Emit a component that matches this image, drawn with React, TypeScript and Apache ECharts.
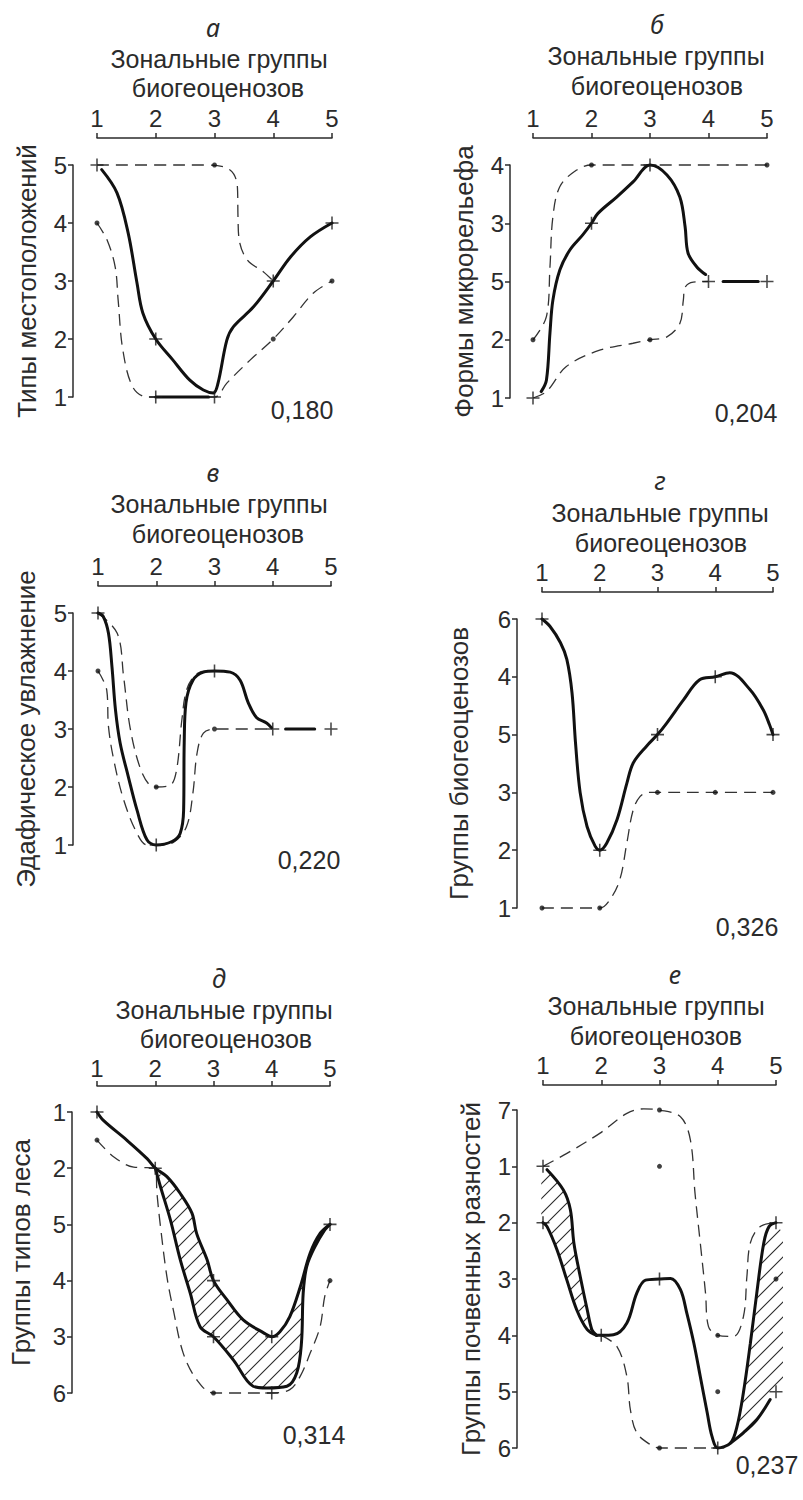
import React, { useEffect, useRef } from 'react';
import * as echarts from 'echarts';

type Pt = [number, number];

// ---------- shared ----------
const X_TICKS = [1, 2, 3, 4, 5];
const X_NAME_1 = 'Зональные группы';
const X_NAME_2 = 'биогеоценозов';

// ---------- а ----------
const A_LETTER = 'а';
const A_Y_NAME = 'Типы местоположений';
const A_LABELS = ['1', '2', '3', '4', '5'];
const A_SOLID: Pt[] = [[1.08, 4.92], [1.34, 4.52], [1.53, 3.83], [1.68, 2.97], [1.78, 2.45], [2, 2], [2.29, 1.64], [2.58, 1.29], [2.81, 1.12], [2.98, 1.07], [3.06, 1.24], [3.21, 1.98], [3.32, 2.21], [3.66, 2.55], [4, 3], [4.29, 3.41], [4.63, 3.76], [5, 4]];
const A_SOLID_2: Pt[] = [[2, 1], [2.9, 1]];
const A_DASH_1: Pt[] = [[1, 5], [2, 5], [2.9, 5], [3.27, 4.91], [3.39, 4.62], [3.4, 4.1], [3.42, 3.71], [3.56, 3.36], [3.83, 3.16], [4, 3]];
const A_DASH_2: Pt[] = [[1, 4], [1.17, 3.71], [1.31, 3.24], [1.36, 2.67], [1.44, 1.81], [1.61, 1.17], [1.85, 1.0], [2, 1], [3, 1], [3.21, 1.24], [3.61, 1.64], [4, 2], [4.34, 2.38], [4.68, 2.79], [5, 3]];
const A_PLUS: Pt[] = [[1, 5], [2, 2], [2, 1], [3, 1], [4, 3], [5, 4]];
const A_DOTS: Pt[] = [[1, 4], [3, 5], [4, 2], [5, 3]];
const A_COEF = '0,180';

// ---------- б ----------
const B_LETTER = 'б';
const B_Y_NAME = 'Формы микрорельефа';
const B_LABELS = ['1', '2', '5', '3', '4'];
const B_SOLID: Pt[] = [[1.14, 1.11], [1.23, 1.31], [1.29, 2.12], [1.34, 2.68], [1.46, 3.2], [1.63, 3.54], [1.85, 3.8], [2, 4], [2.11, 4.17], [2.43, 4.45], [2.71, 4.71], [3, 5], [3.29, 4.83], [3.51, 4.45], [3.6, 3.94], [3.65, 3.49], [3.8, 3.25], [3.95, 3.12]];
const B_SOLID_2: Pt[] = [[4.25, 3], [4.85, 3]];
const B_DASH_1: Pt[] = [[1, 2], [1.23, 2.4], [1.29, 3.25], [1.34, 4.11], [1.46, 4.63], [1.74, 4.91], [2, 5], [5, 5]];
const B_DASH_2: Pt[] = [[1, 1], [1.23, 1.11], [1.57, 1.54], [2.14, 1.82], [2.71, 1.94], [3, 2], [3.29, 2.05], [3.51, 2.28], [3.57, 2.68], [3.6, 2.9], [3.74, 2.99], [4, 3]];
const B_PLUS: Pt[] = [[1, 1], [2, 4], [3, 5], [4, 3], [5, 3]];
const B_DOTS: Pt[] = [[1, 2], [2, 5], [3, 2], [5, 5]];
const B_COEF = '0,204';

// ---------- в ----------
const V_LETTER = 'в';
const V_Y_NAME = 'Эдафическое увлажнение';
const V_LABELS = ['1', '2', '3', '4', '5'];
const V_SOLID: Pt[] = [[1, 5], [1.09, 4.94], [1.18, 4.65], [1.24, 4.07], [1.3, 3.33], [1.38, 2.76], [1.52, 2.18], [1.67, 1.6], [1.84, 1.09], [2, 1], [2.27, 1.06], [2.41, 1.2], [2.47, 1.6], [2.48, 2.76], [2.51, 3.45], [2.63, 3.84], [2.81, 3.98], [3, 4], [3.27, 3.98], [3.44, 3.84], [3.58, 3.45], [3.72, 3.2], [3.9, 3.1], [3.98, 3.02]];
const V_SOLID_2: Pt[] = [[4.22, 3], [4.72, 3]];
const V_DASH_1: Pt[] = [[1, 5], [1.33, 4.65], [1.44, 3.9], [1.55, 3.03], [1.72, 2.34], [1.9, 2.02], [2, 2], [2.24, 2.03], [2.35, 2.3], [2.44, 3.16], [2.52, 3.67], [2.67, 3.93], [2.85, 4.0], [3, 4]];
const V_DASH_2: Pt[] = [[1, 4], [1.15, 3.67], [1.18, 3.04], [1.27, 2.47], [1.44, 1.78], [1.67, 1.2], [1.84, 1.0], [2, 1], [2.3, 1.05], [2.52, 1.32], [2.63, 1.9], [2.7, 2.58], [2.81, 2.93], [3, 3], [4, 3]];
const V_PLUS: Pt[] = [[1, 5], [2, 1], [3, 4], [4, 3], [5, 3]];
const V_DOTS: Pt[] = [[1, 4], [2, 2], [3, 3]];
const V_COEF = '0,220';

// ---------- г ----------
const G_LETTER = 'г';
const G_Y_NAME = 'Группы биогеоценозов';
const G_LABELS = ['1', '2', '3', '5', '4', '6'];
const G_SOLID: Pt[] = [[1, 6], [1.14, 5.87], [1.32, 5.59], [1.43, 5.3], [1.52, 4.72], [1.58, 3.86], [1.66, 3.0], [1.78, 2.41], [1.92, 2.07], [2, 2], [2.12, 2.12], [2.3, 2.53], [2.47, 3.16], [2.58, 3.51], [2.81, 3.8], [3, 4], [3.16, 4.2], [3.45, 4.6], [3.73, 4.95], [4, 5], [4.25, 5.07], [4.6, 4.78], [4.83, 4.43], [4.94, 4.17], [5, 4]];
const G_DASH: Pt[] = [[1, 1], [2, 1], [2.18, 1.15], [2.35, 1.5], [2.47, 2.13], [2.58, 2.7], [2.7, 2.93], [2.84, 3.0], [3, 3], [4, 3], [5, 3]];
const G_PLUS: Pt[] = [[1, 6], [2, 2], [3, 4], [4, 5], [5, 4]];
const G_DOTS: Pt[] = [[1, 1], [2, 1], [3, 3], [4, 3], [5, 3]];
const G_COEF = '0,326';

// ---------- д ----------
const D_LETTER = 'д';
const D_Y_NAME = 'Группы типов леса';
const D_LABELS = ['6', '3', '4', '5', '2', '1'];
const D_SOLID_TOP: Pt[] = [[1, 6], [1.11, 5.85], [1.51, 5.5], [1.86, 5.17], [2, 5], [2.2, 4.85], [2.43, 4.55], [2.63, 4.2], [2.71, 3.84], [2.89, 3.37], [3, 3], [3.23, 2.66], [3.51, 2.3], [3.86, 2.07], [4, 2], [4.14, 2.09], [4.31, 2.36], [4.49, 2.89], [4.66, 3.49], [4.83, 3.84], [5, 4]];
const D_SOLID_BOTTOM: Pt[] = [[2, 5], [2.09, 4.67], [2.26, 4.08], [2.43, 3.37], [2.6, 2.78], [2.77, 2.18], [3, 2], [3.34, 1.59], [3.68, 1.12], [3.91, 1.09], [4.26, 1.12], [4.43, 1.36], [4.51, 1.89], [4.54, 2.78], [4.6, 3.25], [4.74, 3.6], [4.91, 3.9], [5, 4]];
const D_DASH: Pt[] = [[1, 5.5], [1.29, 5.2], [1.63, 5.02], [2, 5], [2.03, 4.55], [2.09, 3.96], [2.2, 3.07], [2.31, 2.48], [2.48, 1.71], [2.71, 1.24], [3, 1], [4, 1], [4.31, 1.06], [4.49, 1.3], [4.66, 1.71], [4.83, 2.18], [4.91, 2.72], [5, 3]];
const D_HATCH: Pt[] = [[2.05, 4.9], [2.2, 4.85], [2.43, 4.55], [2.63, 4.2], [2.71, 3.84], [2.89, 3.37], [3, 3], [3.23, 2.66], [3.51, 2.3], [3.86, 2.07], [4, 2], [4.14, 2.09], [4.31, 2.36], [4.49, 2.89], [4.55, 3.05], [4.54, 2.78], [4.51, 1.89], [4.43, 1.36], [4.26, 1.12], [3.91, 1.09], [3.68, 1.12], [3.34, 1.59], [3, 2], [2.77, 2.18], [2.6, 2.78], [2.43, 3.37], [2.26, 4.08], [2.09, 4.67]];
const D_PLUS: Pt[] = [[1, 6], [2, 5], [3, 3], [3, 2], [4, 2], [4, 1], [5, 4]];
const D_DOTS: Pt[] = [[1, 5.5], [3, 1], [5, 3]];
const D_COEF = '0,314';

// ---------- е ----------
const E_LETTER = 'е';
const E_Y_NAME = 'Группы почвенных разностей';
const E_LABELS = ['6', '5', '4', '3', '2', '1', '7'];
const E_DASH_1: Pt[] = [[1, 6], [1.41, 6.23], [1.98, 6.59], [2.44, 6.94], [2.73, 7.02], [3, 7], [3.36, 6.88], [3.53, 6.47], [3.61, 5.52], [3.7, 4.64], [3.79, 3.75], [3.84, 3.16], [4, 3], [4.27, 2.98], [4.44, 3.33], [4.5, 4.04], [4.56, 4.64], [4.73, 4.93], [5, 5]];
const E_DASH_2: Pt[] = [[2, 3], [2.27, 2.8], [2.44, 2.27], [2.5, 1.68], [2.61, 1.27], [2.84, 1.06], [3, 1], [4, 1]];
const E_SOLID_UL: Pt[] = [[1.07, 5.94], [1.35, 5.58], [1.47, 5.23], [1.53, 4.64], [1.64, 4.04], [1.76, 3.45], [1.84, 3.1], [1.92, 3.0]];
const E_SOLID_LL: Pt[] = [[1, 5], [1.07, 4.93], [1.24, 4.52], [1.41, 3.98], [1.58, 3.45], [1.76, 3.1], [1.92, 3.0]];
const E_SOLID_MAIN: Pt[] = [[1.92, 3.0], [2, 3], [2.21, 3.01], [2.44, 3.22], [2.61, 3.75], [2.76, 3.98], [3, 4], [3.19, 4.01], [3.36, 3.81], [3.47, 3.39], [3.59, 2.86], [3.7, 2.27], [3.82, 1.62], [3.9, 1.21], [4, 1], [4.22, 1.09], [4.33, 1.38], [4.44, 1.98], [4.56, 2.86], [4.67, 3.75], [4.79, 4.64], [4.88, 4.93], [5, 5]];
const E_SOLID_LOW: Pt[] = [[4.22, 1.09], [4.44, 1.27], [4.67, 1.5], [4.9, 1.86]];
const E_HATCH_L: Pt[] = [[0.97, 5.92], [1.07, 5.94], [1.35, 5.58], [1.47, 5.23], [1.53, 4.64], [1.64, 4.04], [1.76, 3.45], [1.84, 3.1], [1.92, 3.0], [1.76, 3.1], [1.58, 3.45], [1.41, 3.98], [1.24, 4.52], [1.07, 4.93], [0.97, 5.0]];
const E_HATCH_R: Pt[] = [[4.22, 1.09], [4.33, 1.38], [4.44, 1.98], [4.56, 2.86], [4.67, 3.75], [4.79, 4.64], [4.88, 4.93], [5, 5], [5.12, 4.8], [5.12, 2.1], [5, 2], [4.9, 1.86], [4.67, 1.5], [4.44, 1.27]];
const E_PLUS: Pt[] = [[1, 6], [1, 5], [2, 3], [3, 4], [4, 1], [5, 5], [5, 2]];
const E_DOTS: Pt[] = [[3, 7], [3, 6], [4, 3], [4, 2], [5, 4], [3, 1]];
const E_COEF = '0,237';

// ---------- panels (data) ----------
const PANELS = [
  { letter: A_LETTER, yName: A_Y_NAME, labels: A_LABELS, solids: [A_SOLID, A_SOLID_2], dashes: [A_DASH_1, A_DASH_2], hatches: [] as Pt[][], plus: A_PLUS, dots: A_DOTS, coef: A_COEF },
  { letter: B_LETTER, yName: B_Y_NAME, labels: B_LABELS, solids: [B_SOLID, B_SOLID_2], dashes: [B_DASH_1, B_DASH_2], hatches: [] as Pt[][], plus: B_PLUS, dots: B_DOTS, coef: B_COEF },
  { letter: V_LETTER, yName: V_Y_NAME, labels: V_LABELS, solids: [V_SOLID, V_SOLID_2], dashes: [V_DASH_1, V_DASH_2], hatches: [] as Pt[][], plus: V_PLUS, dots: V_DOTS, coef: V_COEF },
  { letter: G_LETTER, yName: G_Y_NAME, labels: G_LABELS, solids: [G_SOLID], dashes: [G_DASH], hatches: [] as Pt[][], plus: G_PLUS, dots: G_DOTS, coef: G_COEF },
  { letter: D_LETTER, yName: D_Y_NAME, labels: D_LABELS, solids: [D_SOLID_TOP, D_SOLID_BOTTOM], dashes: [D_DASH], hatches: [D_HATCH], plus: D_PLUS, dots: D_DOTS, coef: D_COEF },
  { letter: E_LETTER, yName: E_Y_NAME, labels: E_LABELS, solids: [E_SOLID_UL, E_SOLID_LL, E_SOLID_MAIN, E_SOLID_LOW], dashes: [E_DASH_1, E_DASH_2], hatches: [E_HATCH_L, E_HATCH_R], plus: E_PLUS, dots: E_DOTS, coef: E_COEF },
];

// ---------- layout ----------
const LAYOUT = [
  { left: 97, top: 165, width: 235, height: 232, xOff: 27, yOff: 24, nameGap: 33, lblMargin: 8, title: [213, 27], n1: [219, 59], n2: [218, 88], coef: [302, 410] },
  { left: 533, top: 165, width: 234, height: 233, xOff: 27, yOff: 23, nameGap: 33, lblMargin: 8, title: [657, 24], n1: [656, 56], n2: [657, 86], coef: [746, 413] },
  { left: 98, top: 613, width: 233, height: 232, xOff: 27, yOff: 25, nameGap: 34, lblMargin: 8, title: [213, 472], n1: [219, 504], n2: [218, 534], coef: [309, 860] },
  { left: 542, top: 619, width: 231, height: 289, xOff: 27, yOff: 25, nameGap: 45, lblMargin: 8, title: [660, 480], n1: [660, 513], n2: [661, 543], coef: [747, 927] },
  { left: 97, top: 1112, width: 233, height: 281, xOff: 26, yOff: 25, nameGap: 38, lblMargin: 6, title: [219, 978], n1: [224, 1010], n2: [226, 1039], coef: [314, 1435] },
  { left: 543, top: 1110, width: 233, height: 338, xOff: 25, yOff: 26, nameGap: 33, lblMargin: 8, title: [675, 974], n1: [656, 1006], n2: [656, 1036], coef: [767, 1465] },
];

const INK = '#2b2b2b';
const LINE = '#111';
const FONT = '"Liberation Sans", Arial, sans-serif';
const PLUS_PATH = 'path://M4.4,0H5.6V4.4H10V5.6H5.6V10H4.4V5.6H0V4.4H4.4Z';
const HATCH_SVG =
  'data:image/svg+xml;charset=utf-8,' +
  encodeURIComponent(
    '<svg xmlns="http://www.w3.org/2000/svg" width="15" height="15"><path d="M0,15L15,0M-2,2L2,-2M13,17L17,13" stroke="#2a2a2a" stroke-width="1.1" fill="none"/></svg>'
  );

function buildOption() {
  const grid: any[] = [];
  const xAxis: any[] = [];
  const yAxis: any[] = [];
  const series: any[] = [];
  const graphic: any[] = [];
  const pattern = { type: 'pattern', image: HATCH_SVG, repeat: 'repeat', imageWidth: 15, imageHeight: 15 };

  PANELS.forEach((p, i) => {
    const L = LAYOUT[i];
    grid.push({ left: L.left, top: L.top, width: L.width, height: L.height });
    xAxis.push({
      type: 'value', gridIndex: i, position: 'top', min: X_TICKS[0], max: X_TICKS[X_TICKS.length - 1], interval: 1, offset: L.xOff,
      axisLine: { show: true, onZero: false, lineStyle: { color: INK, width: 1.5 } },
      axisTick: { show: true, length: 5, lineStyle: { color: INK, width: 1.5 } },
      axisLabel: { color: INK, fontSize: 24, fontFamily: FONT, margin: L.lblMargin },
      splitLine: { show: false },
    });
    yAxis.push({
      type: 'value', gridIndex: i, position: 'left', min: 1, max: p.labels.length, interval: 1, offset: L.yOff,
      name: p.yName, nameLocation: 'middle', nameRotate: 90, nameGap: L.nameGap,
      nameTextStyle: { color: INK, fontSize: 26, fontFamily: FONT },
      axisLine: { show: true, onZero: false, lineStyle: { color: INK, width: 1.5 } },
      axisTick: { show: true, length: 5, lineStyle: { color: INK, width: 1.5 } },
      axisLabel: { color: INK, fontSize: 24, fontFamily: FONT, margin: 6, formatter: (v: number) => p.labels[Math.round(v) - 1] ?? '' },
      splitLine: { show: false },
    });
    p.hatches.forEach((poly) => {
      series.push({
        type: 'custom', xAxisIndex: i, yAxisIndex: i, silent: true, z: 1, clip: false,
        data: [poly[0]],
        renderItem: (params: any, api: any) => {
          if (params.dataIndex !== 0) return null;
          const pts = poly.map((q) => api.coord(q));
          return { type: 'polygon', shape: { points: pts }, style: { fill: pattern, stroke: null } };
        },
      });
    });
    p.dashes.forEach((d) => {
      series.push({
        type: 'line', xAxisIndex: i, yAxisIndex: i, data: d, smooth: 0.35, showSymbol: false, silent: true, z: 2, clip: false,
        lineStyle: { color: '#333', width: 1.3, type: [12, 7] },
      });
    });
    p.solids.forEach((d) => {
      series.push({
        type: 'line', xAxisIndex: i, yAxisIndex: i, data: d, smooth: 0.35, showSymbol: false, silent: true, z: 3, clip: false,
        lineStyle: { color: LINE, width: 3, cap: 'round' },
      });
    });
    series.push({
      type: 'scatter', xAxisIndex: i, yAxisIndex: i, data: p.plus, symbol: PLUS_PATH, symbolSize: 13, silent: true, z: 4, clip: false,
      itemStyle: { color: '#1a1a1a' },
    });
    series.push({
      type: 'scatter', xAxisIndex: i, yAxisIndex: i, data: p.dots, symbol: 'circle', symbolSize: 5, silent: true, z: 4, clip: false,
      itemStyle: { color: '#111' },
    });

    const txt = (text: string, pos: number[], font: string) => ({
      type: 'text', x: pos[0], y: pos[1], silent: true,
      style: { text, font, fill: INK, align: 'center', verticalAlign: 'middle', textAlign: 'center', textVerticalAlign: 'middle' },
    });
    graphic.push(txt(p.letter, L.title, 'italic 25px "Noto Sans", "Liberation Sans", sans-serif'));
    graphic.push(txt(X_NAME_1, L.n1, `25px ${FONT}`));
    graphic.push(txt(X_NAME_2, L.n2, `25px ${FONT}`));
    graphic.push(txt(p.coef, L.coef, `25px ${FONT}`));
  });

  return { animation: false, backgroundColor: '#fff', grid, xAxis, yAxis, series, graphic };
}

export default function App() {
  const ref = useRef<HTMLDivElement>(null);
  useEffect(() => {
    if (!ref.current) return;
    const chart = echarts.init(ref.current, undefined, { renderer: 'svg' });
    chart.setOption(buildOption() as any);
    return () => chart.dispose();
  }, []);
  return <div ref={ref} style={{ position: 'absolute', left: 0, top: 0, width: 803, height: 1500, background: '#fff' }} />;
}
